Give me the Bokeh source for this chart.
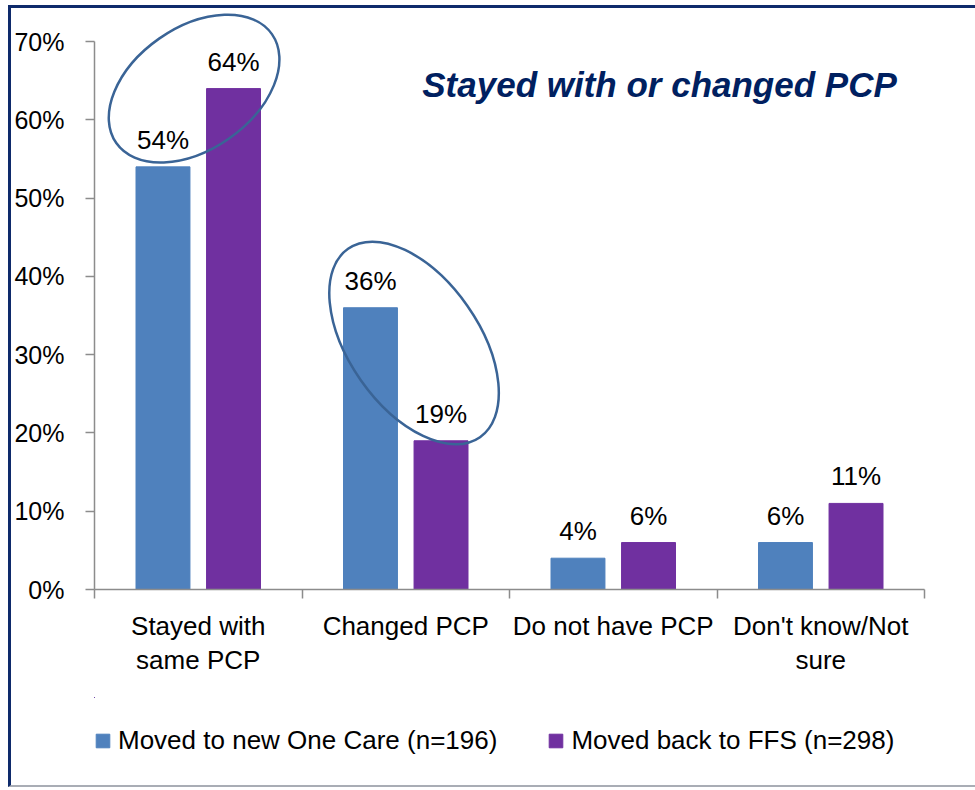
from bokeh.plotting import figure
from bokeh.models import (ColumnDataSource, FixedTicker, PrintfTickFormatter, Label,
                          Legend, LegendItem, Range1d)
from bokeh.layouts import column
from bokeh.core.properties import value
from bokeh.embed import file_html
from bokeh.resources import INLINE
import math

# ---- data ----
categories = ["Stayed with\nsame PCP", "Changed PCP", "Do not have PCP", "Don't know/Not\nsure"]
one_care = [54, 36, 4, 6]
ffs = [64, 19, 6, 11]
series_names = ["Moved to new One Care (n=196)", "Moved back to FFS (n=298)"]
y_ticks = [0, 10, 20, 30, 40, 50, 60, 70]
title_text = "Stayed with or changed PCP"
# highlighted groups (category index, centre value)
highlight_cat = [0, 1]
highlight_val = [64, 31.5]

# ---- styling ----
FONT = "Liberation Sans"
BLUE = "#4F81BD"
PURPLE = "#7030A0"
AXIS = "#8C8C8C"
NAVY = "#002060"
RING = "#3A6496"
EDGE = "#0E2A6B"
FS = "26px"

n = len(categories)
centers = [i + 0.5 for i in range(n)]
off, bw = 0.17, 0.26

src = ColumnDataSource(dict(
    x1=[c - off for c in centers], x2=[c + off for c in centers],
    v1=one_care, v2=ffs,
    t1=[f"{v}%" for v in one_care], t2=[f"{v}%" for v in ffs],
))

p = figure(frame_width=827, frame_height=575, output_backend="svg", toolbar_location=None,
           x_range=Range1d(0, n), y_range=Range1d(0, 73.85),
           min_border_left=82, min_border_right=55, min_border_top=3, min_border_bottom=111)
p.styles = {"border-top": f"3px solid {EDGE}", "border-left": f"3px solid {EDGE}"}
p.outline_line_color = None
p.grid.visible = False
p.background_fill_color = "white"
p.border_fill_color = "white"

r1 = p.vbar(x="x1", top="v1", width=bw, source=src, color=BLUE)
r2 = p.vbar(x="x2", top="v2", width=bw, source=src, color=PURPLE)

for xcol, tcol, vcol in (("x1", "t1", "v1"), ("x2", "t2", "v2")):
    p.text(x=xcol, y=vcol, text=tcol, source=src, text_align="center",
           text_baseline="alphabetic", y_offset=-27, text_font=value(FONT),
           text_font_size=FS, text_color="black")

# highlight rings
ring_w = [190, 230]
ring_h = [122, 130]
ring_a = [35, -55]
ring_x = [centers[c] - 0.02 + 0.06 * k for k, c in enumerate(highlight_cat)]
p.ellipse(x=ring_x, y=highlight_val, width=ring_w, height=ring_h,
          width_units="screen", height_units="screen",
          angle=[math.radians(a) for a in ring_a],
          fill_color=None, line_color=RING, line_width=2.5)

# axes
xa = p.xaxis[0]
xa.ticker = FixedTicker(ticks=centers, minor_ticks=list(range(n + 1)))
xa.major_label_overrides = {c: lab for c, lab in zip(centers, categories)}
xa.major_tick_line_color = None
xa.major_tick_out = 0
xa.major_tick_in = 0
xa.minor_tick_out = 9
xa.minor_tick_in = 0
xa.minor_tick_line_color = AXIS
xa.minor_tick_line_width = 1.5
xa.axis_line_color = AXIS
xa.axis_line_width = 1.5
xa.major_label_text_font = FONT
xa.major_label_text_font_size = FS
xa.major_label_text_color = "black"
xa.major_label_text_line_height = 1.15
xa.major_label_standoff = 12

ya = p.yaxis[0]
ya.ticker = FixedTicker(ticks=y_ticks)
ya.bounds = (0, 70)
ya.formatter = PrintfTickFormatter(format="%d%%")
ya.major_tick_out = 9
ya.major_tick_in = 0
ya.minor_tick_line_color = None
ya.major_tick_line_color = AXIS
ya.major_tick_line_width = 1.5
ya.axis_line_color = AXIS
ya.axis_line_width = 1.5
ya.major_label_text_font = FONT
ya.major_label_text_font_size = "25px"
ya.major_label_text_color = "black"
ya.major_label_standoff = 21

# title
p.add_layout(Label(x=565, y=505, x_units="screen", y_units="screen", text=title_text,
                   text_font=FONT, text_font_size="35px", text_font_style="bold italic",
                   text_color=NAVY, text_align="center", text_baseline="alphabetic"))

# ---- legend strip (separate figure below the chart, frame aligned with the chart) ----
lp = figure(width=967, height=90, output_backend="svg", toolbar_location=None,
            x_axis_location=None, y_axis_location=None,
            x_range=Range1d(100, 104), y_range=Range1d(-200, -100),
            min_border=0, min_border_left=0, min_border_right=0,
            min_border_top=0, min_border_bottom=0)
lp.styles = {"border-left": f"3px solid {EDGE}", "border-bottom": "2px solid #A9ADB5"}
lp.outline_line_color = None
lp.grid.visible = False
# same bars, far outside this strip's visible ranges: only their legend swatches show
lk1 = lp.vbar(x="x1", top="v1", width=bw, source=src, color=BLUE)
lk2 = lp.vbar(x="x2", top="v2", width=bw, source=src, color=PURPLE)
legend = Legend(items=[LegendItem(label=series_names[0], renderers=[lk1]),
                       LegendItem(label=series_names[1], renderers=[lk2])],
                orientation="horizontal", location=(0, 31), margin=0, padding=0,
                spacing=50, glyph_width=17, glyph_height=17, label_standoff=7,
                label_text_font=FONT, label_text_font_size=FS, label_height=30,
                label_text_color="black",
                border_line_color=None, background_fill_alpha=0)
lp.add_layout(legend, "center")

layout = column(p, lp, spacing=0)
layout.styles = {"margin-left": "8px", "margin-top": "5px"}

open("out.html", "w").write(file_html(layout, INLINE))
